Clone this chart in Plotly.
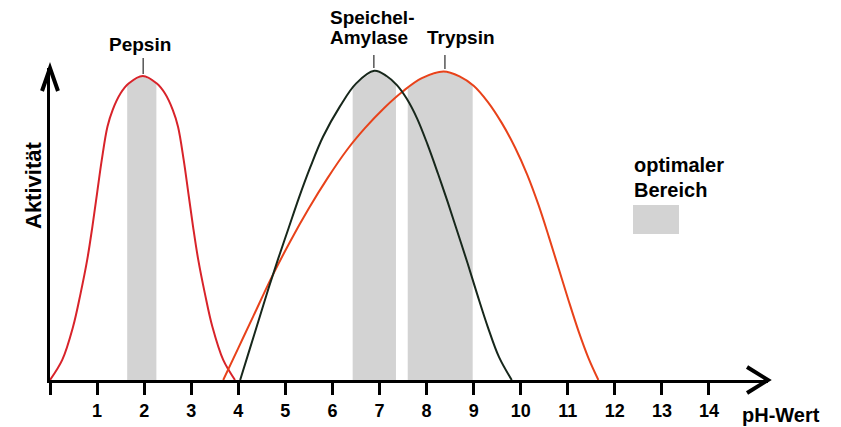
import numpy as np
import plotly.graph_objects as go

# ---------------- data ----------------
pepsin_ph = [0.00, 0.26, 0.49, 0.65, 0.79, 0.90, 1.00, 1.10, 1.22, 1.33, 1.50, 1.67, 1.97,
             2.27, 2.44, 2.61, 2.72, 2.84, 2.94, 3.04, 3.15, 3.29, 3.45, 3.68, 3.93]
pepsin_act = [0, 6.6, 17.5, 28.5, 39.5, 50.4, 61.4, 72.4, 83.3, 88.8, 94.3, 97.5, 100,
              97.5, 94.3, 88.8, 83.3, 72.4, 61.4, 50.4, 39.5, 28.5, 17.5, 6.6, 0]

amylase_ph = [4.04, 4.24, 4.44, 4.64, 4.85, 5.07, 5.29, 5.53, 5.80, 6.16, 6.50, 6.89,
              7.15, 7.37, 7.58, 7.80, 8.02, 8.24, 8.45, 8.66, 8.87, 9.08, 9.30, 9.54, 9.81]
amylase_act = [0, 10, 20, 30, 40, 50, 60, 70, 80, 90, 97.5, 101.7,
               100, 97, 92.5, 86, 77.5, 68, 58.5, 48.5, 38.5, 28, 17.5, 7.5, 0]

trypsin_ph = [3.68, 4.00, 4.32, 4.70, 5.10, 5.50, 5.90, 6.30, 6.70, 7.10, 7.50, 7.90, 8.36,
              8.71, 9.00, 9.30, 9.60, 9.88, 10.14, 10.38, 10.60, 10.81, 11.02, 11.23,
              11.44, 11.65]
trypsin_act = [0, 10.5, 21, 33.5, 45.5, 56.5, 66.5, 75.5, 83, 89.5, 95, 99.3, 101.5,
               99.8, 96.8, 91.5, 84.5, 76.5, 67.5, 57.5, 47, 36.5, 26, 16,
               7.2, 0]

# optimal ranges (pH from, pH to)
pepsin_opt = [1.64, 2.26]
amylase_opt = [6.43, 7.35]
trypsin_opt = [7.60, 8.98]

# peak positions (pH) for label markers
peak_ph = {"Pepsin": 1.98, "Amylase": 6.88, "Trypsin": 8.39}

tick_values = list(range(0, 15))
tick_labels = [""] + [str(v) for v in range(1, 15)]

# ---------------- geometry ----------------
W, H = 841, 427
SHIFT = 8                     # page body margin of the html page
X0PX, PXU = 50.0, 47.07       # pixel of pH 0, pixels per pH unit
Y0PX, PYU = 380.0, 3.04       # pixel of activity 0, pixels per activity unit
XEND, YTOP = 768.0, 68.0
XMAX = (XEND - X0PX) / PXU
YMAX = (Y0PX - YTOP) / PYU

def paper_x(px):
    return (px - X0PX) / (XEND - X0PX)

def paper_y(py):
    return (Y0PX - py) / (Y0PX - YTOP)

FONT = "Liberation Sans, Arial, Helvetica, sans-serif"
BAND = "#d3d3d3"
C_PEP = "#d8232a"
C_AMY = "#17271b"
C_TRY = "#e8421a"

fig = go.Figure()

def band(ph, act, rng):
    ph = np.asarray(ph, float)
    act = np.asarray(act, float)
    inside = ph[(ph > rng[0]) & (ph < rng[1])]
    xs = np.concatenate([[rng[0]], inside, [rng[1]]])
    ys = np.interp(xs, ph, act)
    xs = np.concatenate([[rng[0]], xs, [rng[1]]])
    ys = np.concatenate([[0], ys, [0]])
    fig.add_trace(go.Scatter(x=xs, y=ys, mode="lines", fill="toself",
                             fillcolor=BAND, line=dict(width=0, color=BAND),
                             hoverinfo="skip", showlegend=False))

band(pepsin_ph, pepsin_act, pepsin_opt)
band(amylase_ph, amylase_act, amylase_opt)
band(trypsin_ph, trypsin_act, trypsin_opt)

for xs, ys, col in [(pepsin_ph, pepsin_act, C_PEP),
                    (trypsin_ph, trypsin_act, C_TRY),
                    (amylase_ph, amylase_act, C_AMY)]:
    fig.add_trace(go.Scatter(x=xs, y=ys, mode="lines",
                             line=dict(color=col, width=2, shape="spline", smoothing=1.0),
                             cliponaxis=False, showlegend=False, hoverinfo="skip"))

shapes = []
# arrow heads
shapes.append(dict(type="path", xref="paper", yref="paper",
                   path="M {:.4f},{:.4f} L {:.4f},{:.4f} L {:.4f},{:.4f}".format(
                       paper_x(747), paper_y(367), paper_x(768), paper_y(380),
                       paper_x(747), paper_y(393)),
                   line=dict(color="black", width=4)))
shapes.append(dict(type="path", xref="paper", yref="paper",
                   path="M {:.4f},{:.4f} L {:.4f},{:.4f} L {:.4f},{:.4f}".format(
                       paper_x(42), paper_y(91), paper_x(50), paper_y(68),
                       paper_x(58), paper_y(91)),
                   line=dict(color="black", width=4)))
# peak marker lines
for key, top, bot in [("Pepsin", 58, 74), ("Amylase", 55, 68), ("Trypsin", 55, 69)]:
    xp = peak_ph[key] / XMAX
    shapes.append(dict(type="line", xref="paper", yref="paper",
                       x0=xp, x1=xp, y0=paper_y(top), y1=paper_y(bot),
                       line=dict(color="#555555", width=1.5)))
# legend swatch
shapes.append(dict(type="rect", xref="paper", yref="paper",
                   x0=paper_x(633), x1=paper_x(679), y0=paper_y(234), y1=paper_y(205),
                   fillcolor=BAND, line=dict(width=0)))

def ann(text, px, py, size, angle=0, xanchor="center"):
    return dict(text="<b>" + text + "</b>", x=paper_x(px), y=paper_y(py),
                xref="paper", yref="paper",
                showarrow=False, textangle=angle, xanchor=xanchor, yanchor="middle",
                font=dict(family=FONT, size=size, color="black"))

annotations = [
    ann("Pepsin", 140, 44, 19),
    ann("Speichel-", 372, 18, 19),
    ann("Amylase", 369, 38, 19),
    ann("Trypsin", 461, 38, 19),
    ann("optimaler", 632, 165, 20, xanchor="left"),
    ann("Bereich", 632, 190, 20, xanchor="left"),
    ann("pH-Wert", 781, 415, 20),
    ann("Aktivität", 33, 186, 22, angle=-90),
]

fig.update_layout(
    width=W, height=H,
    margin=dict(l=X0PX - SHIFT, r=W - XEND + SHIFT, t=YTOP - SHIFT,
                b=H - Y0PX + SHIFT, pad=0),
    paper_bgcolor="white", plot_bgcolor="white",
    shapes=shapes, annotations=annotations,
    xaxis=dict(range=[0, XMAX], showgrid=False, zeroline=False,
               showline=True, linewidth=3, linecolor="black",
               ticks="outside", ticklen=12, tickwidth=3, tickcolor="black",
               tickvals=tick_values,
               ticktext=["<b>" + t + "</b>" if t else "" for t in tick_labels],
               tickfont=dict(family=FONT, size=18, color="black"),
               ticklabelstandoff=0,
               fixedrange=True),
    yaxis=dict(range=[0, YMAX], showgrid=False, zeroline=False,
               showline=True, linewidth=3, linecolor="black",
               ticks="", showticklabels=False, fixedrange=True),
)

fig.write_html("out.html")
